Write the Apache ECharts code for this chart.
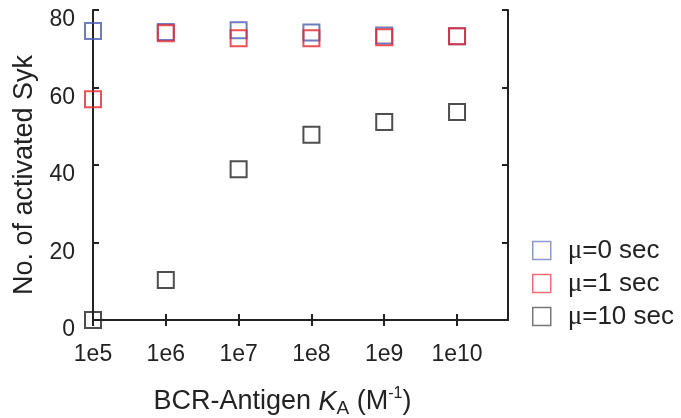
<!DOCTYPE html>
<html>
<head>
<meta charset="utf-8">
<script src="https://cdn.jsdelivr.net/npm/echarts@6/dist/echarts.min.js"></script>
<style>html,body{margin:0;padding:0;background:#fff}#c{width:681px;height:418px}</style>
</head>
<body>
<div id="c"></div>
<script>
// Data (x given as log10 of K_A)
var exponents = [5, 6, 7, 8, 9, 10];
var tickLabels = ['1e5', '1e6', '1e7', '1e8', '1e9', '1e10'];
var mu0 = [74.6, 74.3, 74.8, 74.2, 73.4, 73.2];
var mu1 = [57.0, 74.0, 72.7, 72.7, 73.0, 73.2];
var mu10 = [0.0, 10.3, 38.9, 47.8, 51.1, 53.7];
var seriesNames = ['μ=0 sec', 'μ=1 sec', 'μ=10 sec'];

var colors = ['#4a5cb0', '#e8242c', '#222222'];
var legendColors = ['#6f7fc0', '#e84a50', '#555555'];

function pts(arr) { return exponents.map(function (e, i) { return [e, arr[i]]; }); }

var font = 'Liberation Sans, Arial, sans-serif';
var chart = echarts.init(document.getElementById('c'), null, { renderer: 'canvas' });
var axisLine = { show: true, lineStyle: { color: '#222', width: 2 } };

var series = [mu0, mu1, mu10].map(function (arr, k) {
  return {
    name: seriesNames[k],
    type: 'scatter',
    data: pts(arr),
    symbol: 'rect',
    symbolSize: 16,
    clip: false,
    z: 2 + k,
    itemStyle: { color: 'rgba(0,0,0,0)', borderColor: colors[k], borderWidth: 2 }
  };
});

chart.setOption({
  animation: false,
  backgroundColor: '#fff',
  grid: { left: 93, right: 173, top: 10, bottom: 98, containLabel: false, outerBoundsMode: 'none' },
  legend: {
    orient: 'vertical',
    left: 527,
    top: 232,
    itemWidth: 18,
    itemHeight: 18,
    itemGap: 6,
    selectedMode: false,
    data: seriesNames.map(function (n, k) {
      return { name: n, icon: 'rect', itemStyle: { color: 'rgba(0,0,0,0)', borderColor: legendColors[k], borderWidth: 1.5 } };
    }),
    formatter: function (n) { return '{m|μ}' + n.slice(1); },
    textStyle: {
      fontFamily: font, fontSize: 26, color: '#222', padding: [0, 0, 0, 12], lineHeight: 26,
      rich: { m: { fontFamily: 'Liberation Serif, serif', fontSize: 27, color: '#222', lineHeight: 26 } }
    }
  },
  xAxis: [{
    type: 'value', min: 5, max: 10.7, interval: 1,
    position: 'bottom',
    axisLine: axisLine,
    axisTick: { show: true, inside: true, length: 6, lineStyle: { color: '#222', width: 2 }, customValues: exponents },
    axisLabel: {
      fontFamily: font, fontSize: 23, color: '#222', margin: 23,
      customValues: exponents,
      formatter: function (v) { var i = exponents.indexOf(v); return i >= 0 ? tickLabels[i] : ''; }
    },
    splitLine: { show: false },
    name: 'BCR-Antigen {k|K}{sub|A} (M{sup|-1})',
    nameLocation: 'middle',
    nameGap: 66,
    nameTextStyle: {
      fontFamily: font, fontSize: 27, color: '#222', lineHeight: 32, padding: [0, 36, 0, 0],
      rich: {
        k: { fontFamily: font, fontSize: 27, fontStyle: 'italic', color: '#222', lineHeight: 32 },
        sub: { fontFamily: font, fontSize: 19, color: '#222', lineHeight: 15, verticalAlign: 'bottom' },
        sup: { fontFamily: font, fontSize: 16, color: '#222', lineHeight: 15, verticalAlign: 'top' }
      }
    }
  }, {
    type: 'value', min: 5, max: 10.7, interval: 1,
    position: 'top',
    axisLine: axisLine,
    axisTick: { show: true, inside: true, length: 6, lineStyle: { color: '#222', width: 2 }, customValues: exponents },
    axisLabel: { show: false },
    splitLine: { show: false }
  }],
  yAxis: [{
    type: 'value', min: 0, max: 80, interval: 20,
    axisLine: axisLine,
    axisTick: { show: true, inside: true, length: 6, lineStyle: { color: '#222', width: 2 } },
    axisLabel: { fontFamily: font, fontSize: 23, color: '#222', margin: 18, verticalAlign: 'top', lineHeight: 20 },
    splitLine: { show: false },
    name: 'No. of activated Syk',
    nameLocation: 'middle',
    nameGap: 55,
    nameMoveOverlap: false,
    nameTextStyle: { fontFamily: font, fontSize: 27, color: '#222', padding: [0, 20, 0, 0] }
  }, {
    type: 'value', min: 0, max: 80, interval: 20,
    position: 'right',
    axisLine: axisLine,
    axisTick: { show: true, inside: true, length: 6, lineStyle: { color: '#222', width: 2 } },
    axisLabel: { show: false },
    splitLine: { show: false }
  }],
  series: series
});
</script>
</body>
</html>
